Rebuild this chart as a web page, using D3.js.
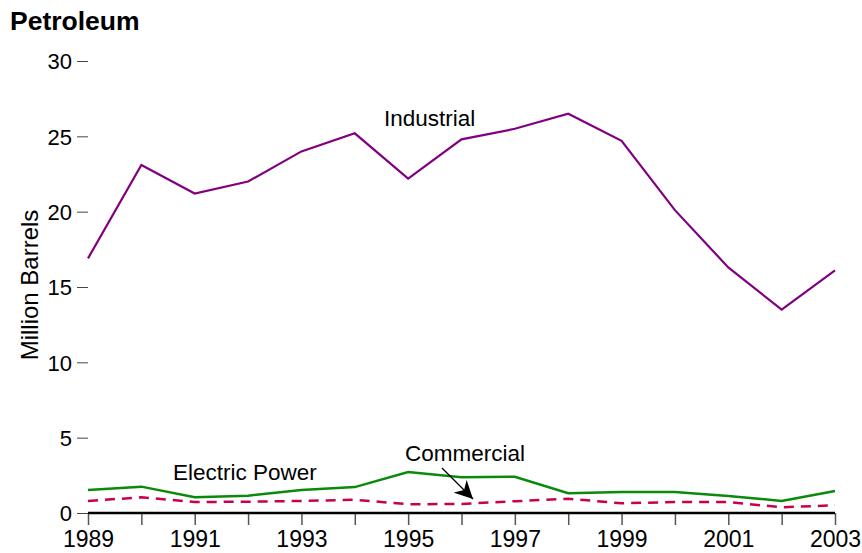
<!DOCTYPE html>
<html><head><meta charset="utf-8">
<script src="https://cdn.jsdelivr.net/npm/d3@7"></script>
<style>body{margin:0;background:#fff}svg{display:block;font-family:"Liberation Sans",Arial,sans-serif}</style>
</head><body><svg id="c" width="862" height="553"></svg>
<script>
const years = [1989,1990,1991,1992,1993,1994,1995,1996,1997,1998,1999,2000,2001,2002,2003];
const industrial = [16.9,23.1,21.2,22.0,24.0,25.2,22.2,24.8,25.5,26.5,24.7,20.1,16.3,13.5,16.1];
const electricPower = [1.53,1.75,1.04,1.15,1.53,1.72,2.72,2.37,2.41,1.31,1.39,1.39,1.13,0.80,1.46];
const commercial = [0.80,1.04,0.73,0.75,0.80,0.88,0.58,0.60,0.78,0.95,0.64,0.73,0.73,0.38,0.51];
const yTicks = [0,5,10,15,20,25,30];
const xLabelYears = [1989,1991,1993,1995,1997,1999,2001,2003];

const svg = d3.select("#c");
const x = d3.scaleLinear().domain([1989,2003]).range([88,835]);
const y = d3.scaleLinear().domain([0,30]).range([513,61]);
const fs = 22.5;

svg.append("text").attr("x",10).attr("y",30).attr("font-size",26.5).attr("font-weight","bold").text("Petroleum");

// y axis (no domain line)
const ya = svg.append("g").attr("transform","translate(88,0)")
  .call(d3.axisLeft(y).tickValues(yTicks).tickSize(11).tickPadding(5));
ya.select(".domain").remove();
ya.selectAll(".tick line").attr("stroke","#444");
ya.selectAll(".tick text").attr("font-size",22).attr("font-family","Liberation Sans, Arial, sans-serif").attr("dy","0.36em");

// x axis
const xa = svg.append("g").attr("transform","translate(0,513)")
  .call(d3.axisBottom(x).tickValues(years).tickSize(12).tickPadding(6)
    .tickFormat(d => xLabelYears.includes(d) ? String(d) : ""));
xa.select(".domain").remove();
xa.selectAll(".tick line").attr("stroke","#555").attr("stroke-width",1.5);
xa.selectAll(".tick text").attr("font-size",23).attr("font-family","Liberation Sans, Arial, sans-serif");
svg.append("line").attr("x1",x(1989)).attr("x2",x(2003)).attr("y1",y(0)).attr("y2",y(0))
  .attr("stroke","#000").attr("stroke-width",2.5);

svg.append("text").attr("transform",`translate(38,${285}) rotate(-90)`)
  .attr("text-anchor","middle").attr("font-size",24).text("Million Barrels");

const line = d3.line().x((d,i)=>x(years[i])).y(d=>y(d));
svg.append("path").datum(industrial).attr("d",line).attr("fill","none").attr("stroke","#800080").attr("stroke-width",2.2);
svg.append("path").datum(electricPower).attr("d",line).attr("fill","none").attr("stroke","#0a8a0a").attr("stroke-width",2.5);
svg.append("path").datum(commercial).attr("d",line).attr("fill","none").attr("stroke","#c8004e").attr("stroke-width",2.5).attr("stroke-dasharray","10,7");

svg.append("text").attr("x",384).attr("y",126).attr("font-size",fs).text("Industrial");
svg.append("text").attr("x",173).attr("y",480).attr("font-size",fs).text("Electric Power");
svg.append("text").attr("x",405).attr("y",461).attr("font-size",fs).text("Commercial");

svg.append("defs").append("marker").attr("id","ah").attr("viewBox","0 0 10 10").attr("refX",10).attr("refY",5)
  .attr("markerWidth",18).attr("markerHeight",18).attr("markerUnits","userSpaceOnUse").attr("orient","auto")
  .append("path").attr("d","M0,0 L10,5 L0,10 L3,5 Z").attr("fill","#000");
svg.append("line").attr("x1",442).attr("y1",468).attr("x2",473).attr("y2",499)
  .attr("stroke","#000").attr("stroke-width",1.3).attr("marker-end","url(#ah)");
</script></body></html>
